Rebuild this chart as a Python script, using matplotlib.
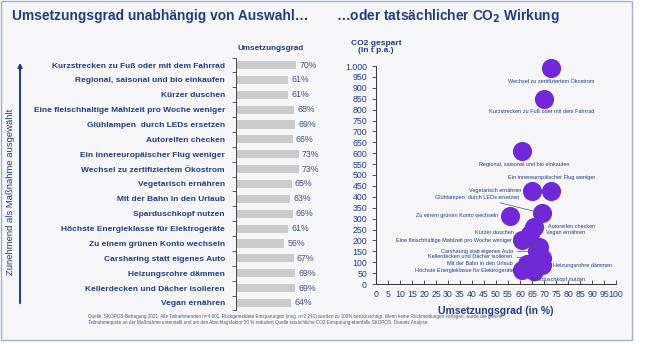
import matplotlib.pyplot as plt
from matplotlib.patches import Rectangle, FancyArrowPatch
from matplotlib.ticker import FuncFormatter, MultipleLocator

plt.rcParams['font.family'] = ['Liberation Sans', 'DejaVu Sans']

measures = ["Kurzstrecken zu Fuß oder mit dem Fahrrad", "Regional, saisonal und bio einkaufen",
            "Kürzer duschen", "Eine fleischhaltige Mahlzeit pro Woche weniger",
            "Glühlampen  durch LEDs ersetzen", "Autoreifen checken", "Ein innereuropäischer Flug weniger",
            "Wechsel zu zertifiziertem Ökostrom", "Vegetarisch ernähren", "Mit der Bahn in den Urlaub",
            "Sparduschkopf nutzen", "Höchste Energieklasse für Elektrogeräte", "Zu einem grünen Konto wechseln",
            "Carsharing statt eigenes Auto", "Heizungsrohre dämmen", "Kellerdecken und Dächer isolieren",
            "Vegan ernähren"]
rate = [70, 61, 61, 68, 69, 66, 73, 73, 65, 63, 66, 61, 56, 67, 69, 69, 64]
co2 = [850, 610, 200, 170, 325, 260, 425, 990, 425, 90, 60, 65, 310, 150, 85, 120, 230]

NAVY = '#1f3c88'
PURPLE = '#7028d8'

fig = plt.figure(figsize=(6.5, 3.44), dpi=100)
W, H = 650, 344


def fx(px):
    return px / W


def fy(py):
    return 1 - py / H


# slide panel
fig.add_artist(Rectangle((fx(1), fy(340)), fx(631), 339 / H, transform=fig.transFigure,
                         facecolor='#f6f6f8', edgecolor='#a3aed0', lw=1, zorder=-5))

fig.text(fx(12), fy(16), "Umsetzungsgrad unabhängig von Auswahl…", fontsize=9.9, fontweight='bold',
         color=NAVY, va='center')
fig.text(fx(336), fy(16), "…oder tatsächlicher CO$_\\mathbf{2}$ Wirkung", fontsize=9.9, fontweight='bold',
         color=NAVY, va='center')

# left arrow and note
fig.add_artist(FancyArrowPatch((fx(20), fy(306)), (fx(20), fy(60)), transform=fig.transFigure,
                               arrowstyle='-|>', mutation_scale=6, color=NAVY, lw=1.4))
fig.text(fx(11), fy(192), "Zunehmend als Maßnahme ausgewählt", rotation=90, fontsize=6.8,
         color=NAVY, ha='center', va='center')

# bar chart
top, bot = 57.6, 310.4
ax = fig.add_axes([fx(236), fy(bot), fx(86), (bot - top) / H])
ax.set_facecolor('none')
pos = list(range(len(measures)))
ax.barh(pos, rate, height=0.55, color='#cbcbcb')
for p, v in zip(pos, rate):
    ax.annotate(f"{v}%", (v, p), xytext=(3, 0), textcoords='offset pixels', va='center',
                fontsize=6.3, color='#3b4f86')
ax.set_xlim(0, 100)
ax.set_ylim(len(measures) - 0.5, -0.5)
ax.set_yticks(pos)
ax.set_yticklabels(measures, fontsize=6.0, fontweight='bold', color=NAVY)
ax.set_yticks([p - 0.5 for p in pos] + [len(measures) - 0.5], minor=True)
ax.tick_params(axis='y', which='major', length=0, pad=8)
ax.tick_params(axis='y', which='minor', length=3, width=0.6, color='#444444')
ax.set_xticks([])
for s in ['top', 'right', 'bottom']:
    ax.spines[s].set_visible(False)
ax.spines['left'].set_color('#444444')
ax.spines['left'].set_linewidth(0.7)
fig.text(fx(238), fy(49), "Umsetzungsgrad", fontsize=5.9, fontweight='bold', color=NAVY, va='center')

# scatter
sx = fig.add_axes([fx(376), fy(284), fx(240), 218 / H])
sx.set_facecolor('none')
sx.scatter(rate, co2, s=190, color=PURPLE, zorder=3, clip_on=False, linewidths=0)
sx.set_xlim(0, 100)
sx.set_ylim(0, 1000)
sx.xaxis.set_major_locator(MultipleLocator(5))
sx.yaxis.set_major_locator(MultipleLocator(50))
sx.yaxis.set_major_formatter(FuncFormatter(lambda v, _: f"{int(v):,}".replace(',', '.')))
sx.tick_params(axis='both', labelsize=6.3, labelcolor=NAVY, length=3, width=0.6, color='#333333')
sx.tick_params(axis='x', direction='in', pad=4)
for s in ['top', 'right']:
    sx.spines[s].set_visible(False)
for s in ['left', 'bottom']:
    sx.spines[s].set_color('#333333')
    sx.spines[s].set_linewidth(0.7)
sx.set_xlabel("Umsetzungsgrad (in %)", fontsize=7.5, fontweight='bold', color=NAVY, labelpad=5)
fig.text(fx(376), fy(47), "CO2 gespart\n(in t p.a.)", fontsize=6, fontweight='bold', color=NAVY,
         ha='center', va='center', linespacing=1.1)

# point labels: (dx, dy) in pixels, alignment, connector
label_pos = {
    "Wechsel zu zertifiziertem Ökostrom": (0, -13, 'center', False),
    "Kurzstrecken zu Fuß oder mit dem Fahrrad": (-2, -13, 'center', False),
    "Regional, saisonal und bio einkaufen": (2, -13, 'center', False),
    "Ein innereuropäischer Flug weniger": (0, 14, 'center', False),
    "Vegetarisch ernähren": (-11, 1, 'right', False),
    "Glühlampen  durch LEDs ersetzen": (-22, 16, 'right', True),
    "Zu einem grünen Konto wechseln": (-12, 1, 'right', False),
    "Autoreifen checken": (14, 1, 'left', True),
    "Vegan ernähren": (16, 1, 'left', True),
    "Kürzer duschen": (-9, 8, 'right', True),
    "Eine fleischhaltige Mahlzeit pro Woche weniger": (-27, 6, 'right', True),
    "Carsharing statt eigenes Auto": (-24, 0, 'right', True),
    "Kellerdecken und Dächer isolieren": (-29, 1, 'right', True),
    "Mit der Bahn in den Urlaub": (-14, 1, 'right', True),
    "Höchste Energieklasse für Elektrogeräte": (-9, -1, 'right', False),
    "Heizungsrohre dämmen": (11, 0, 'left', False),
    "Sparduschkopf nutzen": (23, -9, 'center', True),
}
for name, x, y in zip(measures, rate, co2):
    dx, dy, ha, line = label_pos[name]
    kw = {}
    if line:
        kw['arrowprops'] = dict(arrowstyle='-', color='#555555', lw=0.5, shrinkA=1, shrinkB=2)
    sx.annotate(name, (x, y), xytext=(dx, dy), textcoords='offset pixels',
                ha=ha, va='center', fontsize=4.0, color=NAVY, zorder=4, annotation_clip=False, **kw)

fig.text(fx(88), fy(314), "Quelle: SKOPOS-Befragung 2021. Alle Teilnehmenden n=4.901. Rückgemeldete Einsparungen "
         "(insg. n=2.241) wurden zu 100% berücksichtigt. Wenn keine Rückmeldungen vorlagen, wurde die gleiche\n"
         "Teilnahmequote an der Maßnahme unterstellt und um den Abschlagsfaktor 50 % reduziert Quelle tatsächliche "
         "CO2 Einsparung ebenfalls SKOPOS. Donatis Analyse",
         fontsize=3.3, color='#555577', va='top', linespacing=1.25)

fig.savefig('out.png', dpi=100)
